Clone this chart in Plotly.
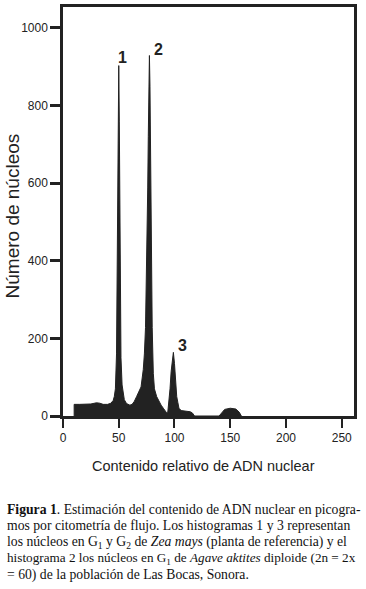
import plotly.graph_objects as go

# Histogram outline (relative DNA content vs number of nuclei)
dna_content = [10, 10, 15, 20, 25, 30, 33, 36, 40, 43, 45, 46, 47, 48, 48.5, 49, 49.5, 50,
               50.5, 51, 51.5, 52, 53, 54, 55, 57, 60, 62, 64, 66, 68, 70, 72, 73, 74, 75,
               75.5, 76, 76.5, 77, 77.5, 78, 78.5, 79, 79.5, 80, 81, 82, 84, 86, 88, 90, 92,
               93, 94, 95, 96, 97, 98, 99, 100, 101, 102, 103, 104, 106, 110, 114, 116, 118,
               140, 142, 145, 150, 155, 158, 160]
nuclei_count = [0, 30, 30, 30, 31, 34, 33, 30, 30, 33, 40, 50, 70, 160, 300, 520, 760, 903,
                760, 500, 280, 150, 80, 55, 42, 32, 28, 30, 38, 50, 62, 75, 120, 160, 228, 380,
                470, 590, 720, 850, 929, 850, 690, 490, 320, 228, 110, 70, 50, 38, 28, 20, 12,
                8, 10, 35, 70, 115, 150, 164, 135, 85, 50, 35, 20, 14, 13, 11, 8, 0,
                0, 8, 17, 20, 18, 10, 0]

peak_labels = ["1", "2", "3"]
peak_label_x = [53.5, 86, 107.5]
peak_label_y = [923, 944, 182]

x_ticks = [0, 50, 100, 150, 200, 250]
y_ticks = [0, 200, 400, 600, 800, 1000]

caption_lines = [
    "<b>Figura 1</b>. Estimación del contenido de ADN nuclear en picogra-",
    "mos por citometría de flujo. Los histogramas 1 y 3 representan",
    "los núcleos en G<sub>1</sub> y G<sub>2</sub> de <i>Zea mays</i> (planta de referencia) y el",
    "histograma 2 los núcleos en G<sub>1</sub> de <i>Agave aktites</i> diploide (2n = 2x",
    "= 60) de la población de Las Bocas, Sonora.",
]
caption_sizes = [13.7, 13.7, 13.7, 13.2, 13.7]

sans = "Liberation Sans, Arial, sans-serif"
serif = "Liberation Serif, Times New Roman, serif"
ink = "#222222"

fig = go.Figure()
fig.add_trace(go.Scatter(
    x=dna_content, y=nuclei_count, mode="lines", fill="tozeroy",
    line=dict(color=ink, width=1), fillcolor=ink, hoverinfo="skip", showlegend=False,
))

for lab, lx, ly in zip(peak_labels, peak_label_x, peak_label_y):
    fig.add_annotation(x=lx, y=ly, text=f"<b>{lab}</b>", showarrow=False,
                       xanchor="center", yanchor="middle",
                       font=dict(family=sans, size=16, color=ink))

W, H = 366, 589
L, R, T, B = 63, 12, 4, 173
pw, ph = W - L - R, H - T - B

def px(xp):
    return (xp - L) / pw

def py(yp):
    return (H - B - yp) / ph

fig.add_annotation(xref="paper", yref="paper", x=px(12), y=py(215), text="Número de núcleos",
                   textangle=-90, showarrow=False, xanchor="center", yanchor="middle",
                   font=dict(family=sans, size=19, color=ink))
fig.add_annotation(xref="paper", yref="paper", x=px(203), y=py(466),
                   text="Contenido relativo de ADN nuclear", showarrow=False,
                   xanchor="center", yanchor="middle",
                   font=dict(family=sans, size=14.5, color=ink))

line_y = [510, 526.5, 543, 559.5, 576]
for txt, ly, sz in zip(caption_lines, line_y, caption_sizes):
    fig.add_annotation(xref="paper", yref="paper", x=px(5), y=py(ly), text=txt,
                       xanchor="left", yanchor="middle", showarrow=False,
                       font=dict(family=serif, size=sz, color="#111111"))

fig.update_xaxes(range=[0, 261], tickvals=x_ticks, ticks="outside", ticklen=9, tickwidth=2,
                 tickcolor=ink, showline=True, linewidth=2.5, linecolor=ink, mirror=True,
                 showgrid=False, zeroline=False,
                 tickfont=dict(family=sans, size=12, color=ink))
fig.update_yaxes(range=[0, 1054], tickvals=y_ticks, ticks="outside", ticklen=10, tickwidth=2.5,
                 tickcolor=ink, showline=True, linewidth=2.5, linecolor=ink, mirror=True,
                 showgrid=False, zeroline=False,
                 tickfont=dict(family=sans, size=12, color=ink))

fig.update_layout(width=W, height=H, margin=dict(l=L, r=R, t=T, b=B),
                  paper_bgcolor="white", plot_bgcolor="white")

fig.write_html("out.html", config={"displayModeBar": False},
               post_script="document.body.style.margin='0px';")
